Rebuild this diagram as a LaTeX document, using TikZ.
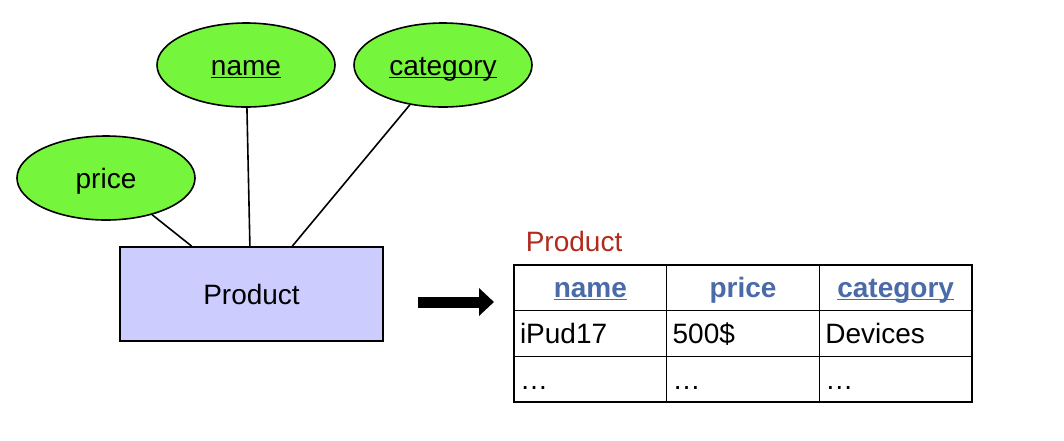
\documentclass[tikz,border=0pt]{standalone}
\usepackage{fontspec}
\setmainfont{Liberation Sans}
\usetikzlibrary{shapes.geometric,arrows.meta}
\definecolor{attrgreen}{HTML}{76F53D}
\definecolor{entblue}{HTML}{CCCCFF}
\definecolor{headblue}{HTML}{4A6BA8}
\definecolor{tabred}{HTML}{B22A1C}
\newcommand{\keyattr}[1]{\underline{\smash{#1}}}
\begin{document}
\begin{tikzpicture}[x=1pt,y=-1pt,line width=1.6pt,
    attr/.style={draw,ellipse,fill=attrgreen,minimum width=178pt,minimum height=84pt,inner sep=0pt,text height=21pt,text depth=0pt,font=\fontsize{28}{32}\selectfont},
    entity/.style={draw,rectangle,fill=entblue,minimum width=263pt,minimum height=94pt,inner sep=0pt,text height=21pt,text depth=0pt,font=\fontsize{28}{32}\selectfont},
    cell/.style={draw,line width=1.2pt,rectangle,minimum height=45.67pt,inner xsep=6pt,inner ysep=0pt,text width=140.67pt,text height=21pt,text depth=1pt,font=\fontsize{28}{32}\selectfont},
    headcell/.style={cell,align=center,text=headblue,font=\fontsize{28}{32}\selectfont\bfseries},
    bodycell/.style={cell,align=left}]
  \useasboundingbox (0,0) rectangle (1064,440);

  \node[attr] (price) at (106,178) {price};
  \node[attr] (name) at (246,65) {\keyattr{name}};
  \node[attr] (category) at (443,65) {\keyattr{category}};
  \node[entity] (product) at (251.5,294) {Product};

  \path (product.north west) -- (product.north east)
    coordinate[pos=0.274] (tprice)
    coordinate[pos=0.494] (tname)
    coordinate[pos=0.654] (tcategory);
  \draw (tprice) -- (price);
  \draw (tname) -- (name);
  \draw (tcategory) -- (category);

  \coordinate (from) at (418,302);
  \coordinate (to) at (494,302);
  \draw[line width=11pt,-{Triangle[width=27pt,length=15pt]}] (from) -- (to);

  \node[anchor=west,text=tabred,inner sep=0pt,font=\fontsize{28}{32}\selectfont] (relname) at (525,241) {Product};

  \node[headcell] (h1) at (590.33,287.83) {\keyattr{name}};
  \node[headcell] (h2) at (743,287.83) {price};
  \node[headcell] (h3) at (895.67,287.83) {\keyattr{category}};
  \node[bodycell] (r1) at (590.33,333.5) {iPud17};
  \node[bodycell] (r2) at (743,333.5) {500\$};
  \node[bodycell] (r3) at (895.67,333.5) {Devices};
  \node[bodycell] (d1) at (590.33,379.17) {\dots};
  \node[bodycell] (d2) at (743,379.17) {\dots};
  \node[bodycell] (d3) at (895.67,379.17) {\dots};
\end{tikzpicture}
\end{document}
